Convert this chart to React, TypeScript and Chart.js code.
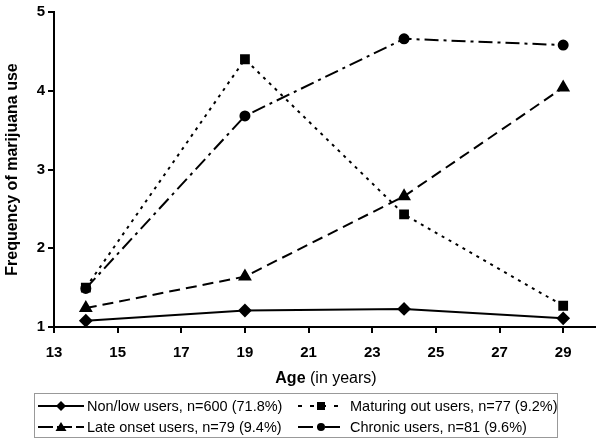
import React, { useEffect, useRef } from "react";
import { Chart, registerables } from "chart.js";

Chart.register(...registerables);

const ages = [14, 19, 24, 29];
const xTickValues = [13, 15, 17, 19, 21, 23, 25, 27, 29];
const yTickValues = [1, 2, 3, 4, 5];

const nonLow = [1.08, 1.21, 1.23, 1.11];
const maturingOut = [1.5, 4.4, 2.43, 1.27];
const lateOnset = [1.24, 1.64, 2.66, 4.04];
const chronic = [1.49, 3.68, 4.66, 4.58];

const seriesLabels = [
  "Non/low users, n=600 (71.8%)",
  "Maturing out users, n=77 (9.2%)",
  "Late onset users, n=79 (9.4%)",
  "Chronic users, n=81 (9.6%)",
];

const FONT = "'Liberation Sans', Arial, Helvetica, sans-serif";

function pts(values: number[]) {
  return values.map((v, i) => ({ x: ages[i], y: v }));
}

function LegendIcon({ kind }: { kind: string }) {
  const w = 46;
  const h = 14;
  const cy = 7;
  let dash = "";
  let marker: React.ReactNode = null;
  const cx = 23;
  if (kind === "non") {
    dash = "";
    marker = <polygon points={`${cx},${cy - 5} ${cx + 5},${cy} ${cx},${cy + 5} ${cx - 5},${cy}`} fill="#000" />;
  } else if (kind === "mat") {
    dash = "4,8";
    marker = <rect x={cx - 4} y={cy - 4} width={8} height={8} fill="#000" />;
  } else if (kind === "late") {
    dash = "15,4";
    marker = <polygon points={`${cx},${cy - 5} ${cx + 5.5},${cy + 4} ${cx - 5.5},${cy + 4}`} fill="#000" />;
  } else {
    dash = "15,4,4,4";
    marker = <circle cx={cx} cy={cy} r={4} fill="#000" />;
  }
  return (
    <svg width={w} height={h} style={{ display: "block" }}>
      <line x1={0} y1={cy} x2={w} y2={cy} stroke="#000" strokeWidth={2} strokeDasharray={dash || undefined} />
      {marker}
    </svg>
  );
}

export default function App() {
  const canvasRef = useRef<HTMLCanvasElement | null>(null);

  useEffect(() => {
    if (!canvasRef.current) return;
    const common = {
      borderColor: "#000",
      backgroundColor: "#000",
      pointBackgroundColor: "#000",
      pointBorderColor: "#000",
      borderWidth: 2,
      tension: 0,
      fill: false,
    };
    const chart = new Chart(canvasRef.current, {
      type: "line",
      data: {
        datasets: [
          { ...common, label: seriesLabels[0], data: pts(nonLow), pointStyle: "rectRot", pointRadius: 5.5 },
          { ...common, label: seriesLabels[1], data: pts(maturingOut), pointStyle: "rect", pointRadius: 5.5, borderDash: [3, 5] },
          { ...common, label: seriesLabels[2], data: pts(lateOnset), pointStyle: "triangle", pointRadius: 6, borderDash: [11, 6] },
          { ...common, label: seriesLabels[3], data: pts(chronic), pointStyle: "circle", pointRadius: 4.5, borderDash: [14, 5, 3, 5] },
        ],
      },
      options: {
        animation: false,
        responsive: false,
        maintainAspectRatio: false,
        layout: { padding: { top: 11, right: 5, bottom: 79, left: 0 } },
        plugins: { legend: { display: false }, tooltip: { enabled: false } },
        scales: {
          x: {
            type: "linear",
            min: 13,
            max: 30,
            afterBuildTicks: (scale: any) => {
              scale.ticks = xTickValues.map((v) => ({ value: v }));
            },
            afterFit: (scale: any) => {
              scale.height = 40;
            },
            ticks: {
              color: "#000",
              font: { family: FONT, size: 15, weight: "bold" },
              padding: 11,
              maxRotation: 0,
              autoSkip: false,
            },
            grid: {
              display: true,
              drawOnChartArea: false,
              drawTicks: true,
              tickLength: 6,
              tickWidth: 2,
              tickColor: "#000",
              color: "#000",
              lineWidth: 2,
            },
            border: { display: true, color: "#000", width: 2 },
          },
          y: {
            type: "linear",
            min: 1,
            max: 5,
            afterBuildTicks: (scale: any) => {
              scale.ticks = yTickValues.map((v) => ({ value: v }));
            },
            afterFit: (scale: any) => {
              scale.width = 54;
            },
            ticks: {
              color: "#000",
              font: { family: FONT, size: 15, weight: "bold" },
              padding: 3,
            },
            title: {
              display: true,
              text: "Frequency of marijuana use",
              color: "#000",
              font: { family: FONT, size: 16, weight: "bold" },
              padding: { top: 3, bottom: 0 },
            },
            grid: {
              display: true,
              drawOnChartArea: false,
              drawTicks: true,
              tickLength: 6,
              tickWidth: 2,
              tickColor: "#000",
              color: "#000",
              lineWidth: 2,
            },
            border: { display: true, color: "#000", width: 2 },
          },
        },
      },
    } as any);
    return () => chart.destroy();
  }, []);

  const legendText: React.CSSProperties = {
    position: "absolute",
    fontFamily: FONT,
    fontSize: 14.5,
    color: "#000",
    whiteSpace: "nowrap",
    lineHeight: "18px",
  };

  return (
    <div style={{ position: "absolute", left: 0, top: 0, width: 603, height: 446, background: "#fff" }}>
      <canvas ref={canvasRef} width={603} height={446} style={{ position: "absolute", left: 0, top: 0 }} />
      <div
        style={{
          position: "absolute",
          left: 0,
          width: 652,
          top: 368,
          textAlign: "center",
          fontFamily: FONT,
          fontSize: 16,
          lineHeight: "20px",
          color: "#000",
          whiteSpace: "nowrap",
        }}
      >
        <b>Age</b> (in years)
      </div>
      <div
        style={{
          position: "absolute",
          left: 34,
          top: 393,
          width: 524,
          height: 45,
          border: "1px solid #999",
          boxSizing: "border-box",
        }}
      >
        <div style={{ position: "absolute", left: 3, top: 5 }}><LegendIcon kind="non" /></div>
        <div style={{ ...legendText, left: 52, top: 3 }}>{seriesLabels[0]}</div>
        <div style={{ position: "absolute", left: 263, top: 5 }}><LegendIcon kind="mat" /></div>
        <div style={{ ...legendText, left: 315, top: 3 }}>{seriesLabels[1]}</div>
        <div style={{ position: "absolute", left: 3, top: 26 }}><LegendIcon kind="late" /></div>
        <div style={{ ...legendText, left: 52, top: 24 }}>{seriesLabels[2]}</div>
        <div style={{ position: "absolute", left: 263, top: 26 }}><LegendIcon kind="chronic" /></div>
        <div style={{ ...legendText, left: 315, top: 24 }}>{seriesLabels[3]}</div>
      </div>
    </div>
  );
}
